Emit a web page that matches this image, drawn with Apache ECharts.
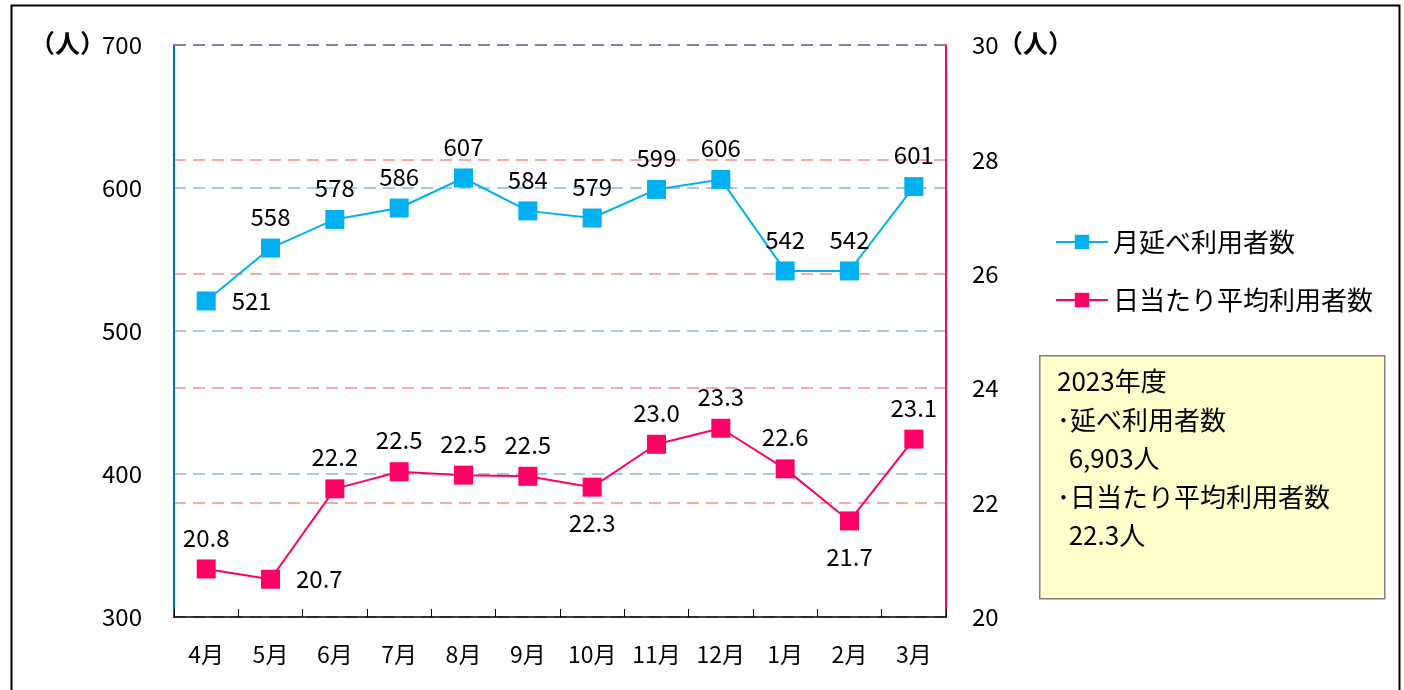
<!DOCTYPE html>
<html><head><meta charset="utf-8">
<script src="https://cdn.jsdelivr.net/npm/echarts@6/dist/echarts.min.js"></script>
<style>html,body{margin:0;padding:0;background:#fff}#c{width:1404px;height:690px}</style>
</head><body><div id="c"></div>
<script>
const categories = ['4月','5月','6月','7月','8月','9月','10月','11月','12月','1月','2月','3月'];
const monthlyUsers = [521, 558, 578, 586, 607, 584, 579, 599, 606, 542, 542, 601];
const dailyAvgUsers = [20.84, 20.66, 22.24, 22.54, 22.48, 22.46, 22.27, 23.02, 23.30, 22.59, 21.68, 23.11];
const monthlyLabelPos = ['right','top','top','top','top','top','top','top','top','top','top','top'];
const dailyLabelPos = ['top','right','top','top','top','top','bottom','top','top','top','bottom','top'];
const seriesNames = ['月延べ利用者数','日当たり平均利用者数'];
const noteLines = ['2023年度','･延べ利用者数','  6,903人','･日当たり平均利用者数','  22.3人'];

const FONT = '"Noto Sans CJK JP", "Noto Sans", sans-serif';
const chart = echarts.init(document.getElementById('c'));

function mkData(vals, pos) {
  return vals.map((v, i) => ({
    value: v,
    label: { position: pos[i], distance: pos[i] === 'right' ? 16 : (pos[i] === 'bottom' ? 14 : 10) }
  }));
}

chart.setOption({
  animation: false,
  textStyle: { fontFamily: FONT },
  grid: { left: 174, right: 458, top: 45, bottom: 73, containLabel: false },
  legend: {
    orient: 'vertical', left: 1050, top: 224, itemGap: 32, itemWidth: 52, itemHeight: 18,
    textStyle: { fontSize: 26, color: '#000', fontFamily: FONT },
    data: seriesNames
  },
  xAxis: {
    type: 'category', data: categories, boundaryGap: true,
    axisLine: { lineStyle: { color: '#000', width: 1.5 } },
    axisTick: { show: true, inside: true, length: 8, lineStyle: { color: '#000' } },
    axisLabel: { fontSize: 23, color: '#000', margin: 26, fontFamily: FONT }
  },
  yAxis: [
    {
      type: 'value', min: 300, max: 700, interval: 100, position: 'left',
      axisLine: { show: true, lineStyle: { color: '#0070C0', width: 2 } },
      axisTick: { show: false },
      axisLabel: { fontSize: 24, color: '#000', margin: 32, fontFamily: FONT },
      splitLine: { show: true, lineStyle: { color: '#8DB4E2', type: [12, 7], width: 1.5 } }
    },
    {
      type: 'value', min: 20, max: 30, interval: 2, position: 'right',
      axisLine: { show: true, lineStyle: { color: '#FF0066', width: 2 } },
      axisTick: { show: false },
      axisLabel: { fontSize: 24, color: '#000', margin: 26, fontFamily: FONT },
      splitLine: { show: true, lineStyle: { color: '#F28C8C', type: [12, 7], width: 1.5 } }
    }
  ],
  series: [
    {
      name: seriesNames[0], type: 'line', yAxisIndex: 0,
      data: mkData(monthlyUsers, monthlyLabelPos),
      symbol: 'rect', symbolSize: 19,
      lineStyle: { color: '#00B0F0', width: 2 },
      itemStyle: { color: '#00B0F0' },
      label: { show: true, fontSize: 24, color: '#000', fontFamily: FONT },
      z: 3
    },
    {
      name: seriesNames[1], type: 'line', yAxisIndex: 1,
      data: mkData(dailyAvgUsers, dailyLabelPos),
      symbol: 'rect', symbolSize: 19,
      lineStyle: { color: '#FF0066', width: 2 },
      itemStyle: { color: '#FF0066' },
      label: { show: true, fontSize: 24, color: '#000', fontFamily: FONT,
        formatter: p => Number(p.value).toFixed(1) },
      z: 3
    }
  ],
  graphic: [
    { type: 'rect', left: 9, top: 3, z: -10, silent: true,
      shape: { width: 1388, height: 700 },
      style: { fill: 'none', stroke: '#000', lineWidth: 2 } },
    { type: 'line', z: 1, silent: true,
      shape: { x1: 174, y1: 45, x2: 946, y2: 45 },
      style: { stroke: '#8E7CA3', lineWidth: 2, lineDash: [12, 7] } },
    { type: 'text', left: 30, top: 31, style: { text: '（人）', font: 'bold 25px ' + FONT, fill: '#000' } },
    { type: 'text', left: 998, top: 31, style: { text: '（人）', font: 'bold 25px ' + FONT, fill: '#000' } },
    { type: 'rect', left: 1039, top: 355, silent: true,
      shape: { width: 345, height: 243 },
      style: { fill: '#FFFFCC', stroke: '#7F7F7F', lineWidth: 1.5 } },
    { type: 'text', left: 1057, top: 362, silent: true,
      style: { text: noteLines.join('\n'), font: '26px ' + FONT, lineHeight: 38.5, fill: '#000' } }
  ]
});
</script></body></html>
